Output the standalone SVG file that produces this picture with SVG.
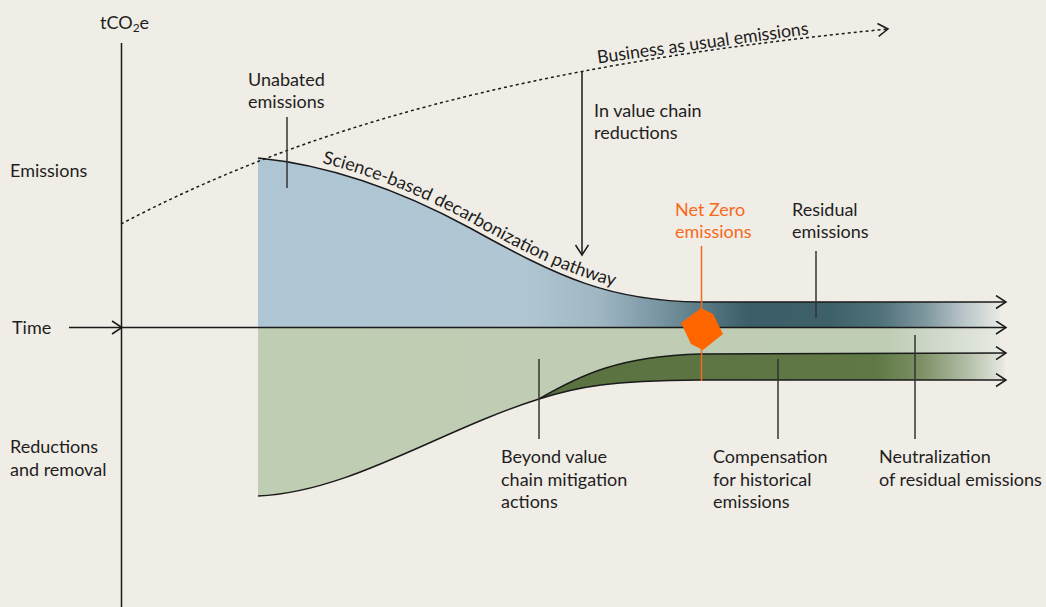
<svg xmlns="http://www.w3.org/2000/svg" width="1046" height="607" viewBox="0 0 1046 607">
<defs>
<style>
.lbl{font-family:Lato,"Open Sans","Liberation Sans",sans-serif;font-size:18px;fill:#1e1e1e}
.org{fill:#f76a1c}
.ln{stroke:#1a1a1a;stroke-width:1.5;fill:none}
.ptr{stroke:#333;stroke-width:1.5;fill:none}
</style>
<marker id="chev" markerUnits="userSpaceOnUse" markerWidth="14" markerHeight="16" refX="11" refY="7" orient="auto" viewBox="0 0 14 16">
<path d="M1,0.5 L11,7 L1,13.5" fill="none" stroke="#1a1a1a" stroke-width="1.5"/>
</marker>
<linearGradient id="gBlue" gradientUnits="userSpaceOnUse" x1="258" y1="0" x2="1000" y2="0">
<stop offset="0" stop-color="#aec5d3"/>
<stop offset="0.36" stop-color="#b0c6d3"/>
<stop offset="0.46" stop-color="#9fb6c3"/>
<stop offset="0.53" stop-color="#7e9aa6"/>
<stop offset="0.6" stop-color="#587a85"/>
<stop offset="0.66" stop-color="#3b5e68"/>
<stop offset="0.77" stop-color="#3d6069"/>
<stop offset="0.84" stop-color="#50727b"/>
<stop offset="0.9" stop-color="#7f98a0"/>
<stop offset="0.95" stop-color="#b7c4c7"/>
<stop offset="1" stop-color="#e9eae5"/>
</linearGradient>
<linearGradient id="gLight" gradientUnits="userSpaceOnUse" x1="258" y1="0" x2="1000" y2="0">
<stop offset="0" stop-color="#bfcdb3"/>
<stop offset="0.85" stop-color="#c0cdb5"/>
<stop offset="0.92" stop-color="#d0d9cb"/>
<stop offset="1" stop-color="#e8eae3"/>
</linearGradient>
<linearGradient id="gDark" gradientUnits="userSpaceOnUse" x1="539" y1="0" x2="1005" y2="0">
<stop offset="0" stop-color="#5a723f"/>
<stop offset="0.72" stop-color="#5f7845"/>
<stop offset="0.82" stop-color="#7c9064"/>
<stop offset="0.92" stop-color="#b3bea8"/>
<stop offset="1" stop-color="#e9eae3"/>
</linearGradient>
<path id="sbPath" d="M258,152 C330,159 400,184 470,222 C560,272 610,295 700,296"/>
</defs>
<rect width="1046" height="607" fill="#f0ede6"/>

<g id="area-emissions">
<path d="M258,158 C330,165 400,190 470,228 C560,278 610,301 700,302 L1000,302 L1000,327.5 L258,327.5 Z" fill="url(#gBlue)"/>
</g>
<g id="area-beyond">
<path d="M258,327.5 L1000,327.5 L1000,353 L700,354 C620,356 580,375 539,399 C440,430 350,492 258,496 Z" fill="url(#gLight)"/>
</g>
<g id="area-compensation">
<path d="M539,399 C580,375 620,356 700,354 L1005,353 L1005,380 L700,380 C610,381 580,386 539,399 Z" fill="url(#gDark)"/>
</g>

<g id="connectors">
<line class="ln" x1="121.5" y1="43" x2="121.5" y2="607"/>
<line class="ln" x1="69" y1="327.5" x2="1006" y2="327.5" marker-end="url(#chev)"/>
<path class="ln" d="M112,321 L122,327.5 L112,334"/>
<path class="ln" stroke-dasharray="3 3" d="M121,224 C300,130 520,65 888,29" marker-end="url(#chev)"/>
<path class="ln" d="M258,158 C330,165 400,190 470,228 C560,278 610,301 700,302 L1006,302" marker-end="url(#chev)"/>
<path class="ln" d="M539,399 C580,375 620,356 700,354 L1006,353" marker-end="url(#chev)"/>
<path class="ln" d="M258,496 C350,492 440,430 539,399 C580,386 610,381 700,380 L1006,380" marker-end="url(#chev)"/>
<line class="ln" x1="582" y1="72" x2="582" y2="255" marker-end="url(#chev)"/>
<line class="ptr" x1="287" y1="117" x2="287" y2="188"/>
<line class="ptr" x1="816" y1="251" x2="816" y2="318"/>
<line class="ptr" x1="539" y1="359" x2="539" y2="439"/>
<line class="ptr" x1="778" y1="359" x2="778" y2="439"/>
<line class="ptr" x1="915" y1="335" x2="915" y2="439"/>
<line x1="701.5" y1="246" x2="701.5" y2="381" stroke="#f76a1c" stroke-width="1.5"/>
</g>

<g id="net-zero">
<polygon points="681,323 701,308 713,314 723,334 703,350 691,344" fill="#ff6600"/>
<text class="lbl org" x="675" y="216">Net Zero</text>
<text class="lbl org" x="675" y="238">emissions</text>
</g>

<g id="axis-labels">
<text class="lbl" x="100" y="29">tCO<tspan font-size="12" dy="3">2</tspan><tspan dy="-3">e</tspan></text>
<text class="lbl" x="10" y="177">Emissions</text>
<text class="lbl" x="12" y="334">Time</text>
<text class="lbl" x="10" y="453">Reductions</text>
<text class="lbl" x="10" y="476">and removal</text>
</g>

<g id="label-bau">
<text class="lbl" transform="translate(598,63.5) rotate(-7.9)" textLength="213" lengthAdjust="spacingAndGlyphs">Business as usual emissions</text>
</g>
<g id="label-pathway">
<text class="lbl"><textPath href="#sbPath" startOffset="65" textLength="318" lengthAdjust="spacingAndGlyphs">Science-based decarbonization pathway</textPath></text>
</g>
<g id="label-unabated">
<text class="lbl" x="248" y="86">Unabated</text>
<text class="lbl" x="248" y="108">emissions</text>
</g>
<g id="label-invalue">
<text class="lbl" x="594" y="117">In value chain</text>
<text class="lbl" x="594" y="139">reductions</text>
</g>
<g id="label-residual">
<text class="lbl" x="792" y="216">Residual</text>
<text class="lbl" x="792" y="238">emissions</text>
</g>
<g id="label-beyond">
<text class="lbl" x="501" y="463">Beyond value</text>
<text class="lbl" x="501" y="486">chain mitigation</text>
<text class="lbl" x="501" y="508">actions</text>
</g>
<g id="label-compensation">
<text class="lbl" x="713" y="463">Compensation</text>
<text class="lbl" x="713" y="486">for historical</text>
<text class="lbl" x="713" y="508">emissions</text>
</g>
<g id="label-neutralization">
<text class="lbl" x="879" y="463">Neutralization</text>
<text class="lbl" x="879" y="486">of residual emissions</text>
</g>
</svg>
